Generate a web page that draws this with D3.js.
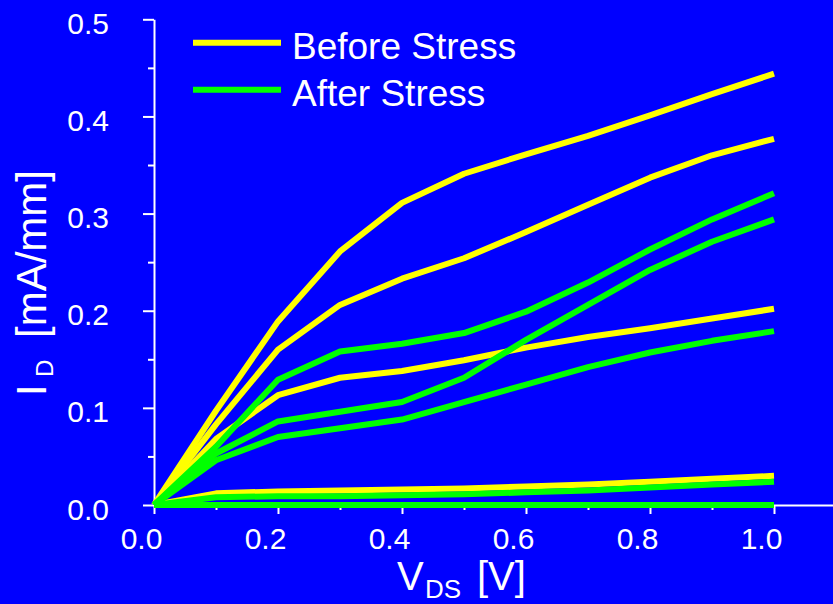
<!DOCTYPE html>
<html>
<head>
<meta charset="utf-8">
<script src="https://cdn.jsdelivr.net/npm/d3@7"></script>
<style>
  html, body { margin: 0; padding: 0; background: #0000ff; }
  svg { display: block; }
</style>
</head>
<body>
<svg id="chart" width="833" height="604"></svg>
<script>
// Drain voltage sweep points [V]
const vds = [0.0, 0.1, 0.2, 0.3, 0.4, 0.5, 0.6, 0.7, 0.8, 0.9, 1.0];

// Drain current [mA/mm] before stress, one curve per gate bias
const before1 = [0, 0.097, 0.189, 0.261, 0.311, 0.341, 0.361, 0.380, 0.401, 0.423, 0.444];
const before2 = [0, 0.083, 0.160, 0.206, 0.233, 0.254, 0.281, 0.309, 0.337, 0.360, 0.377];
const before3 = [0, 0.068, 0.113, 0.131, 0.138, 0.149, 0.162, 0.173, 0.182, 0.192, 0.202];
const before4 = [0, 0.012, 0.014, 0.015, 0.016, 0.017, 0.019, 0.021, 0.024, 0.027, 0.030];
const before5 = [0, 0.000, 0.000, 0.000, 0.000, 0.000, 0.000, 0.000, 0.000, 0.000, 0.000];

// Drain current [mA/mm] after stress
const after1 = [0, 0.060, 0.129, 0.158, 0.166, 0.177, 0.199, 0.229, 0.263, 0.294, 0.321];
const after2 = [0, 0.053, 0.086, 0.096, 0.106, 0.131, 0.170, 0.206, 0.242, 0.271, 0.294];
const after3 = [0, 0.046, 0.070, 0.079, 0.088, 0.106, 0.124, 0.142, 0.157, 0.169, 0.179];
const after4 = [0, 0.008, 0.009, 0.009, 0.010, 0.011, 0.013, 0.015, 0.018, 0.021, 0.024];
const after5 = [0, 0.000, 0.000, 0.000, 0.000, 0.000, 0.000, 0.000, 0.000, 0.000, 0.000];

// Axis ticks
const xMajor = [0.0, 0.2, 0.4, 0.6, 0.8, 1.0];
const xMinor = [0.1, 0.3, 0.5, 0.7, 0.9];
const yMajor = [0.0, 0.1, 0.2, 0.3, 0.4, 0.5];
const yMinor = [0.05, 0.15, 0.25, 0.35, 0.45];

const legendLabels = ["Before Stress", "After Stress"];
const colors = { before: "#ffff00", after: "#00ff00" };

const FONT = "'Liberation Sans', Arial, Helvetica, sans-serif";
const svg = d3.select("#chart");

svg.append("rect").attr("width", 833).attr("height", 604).attr("fill", "#0000ff");

const x = d3.scaleLinear().domain([0, 1.1]).range([154, 836]);
const y = d3.scaleLinear().domain([0, 0.5]).range([505, 19.3]);

// ---- axes ----
function styleAxis(g) {
  g.selectAll("path, line").attr("stroke", "#ffffff").attr("stroke-width", 2);
  g.selectAll("text").attr("fill", "#ffffff").attr("font-family", FONT).attr("font-size", 30);
}

const gx = svg.append("g").attr("transform", `translate(0,${y(0)})`)
  .call(d3.axisBottom(x).tickValues(xMajor).tickSize(9).tickSizeOuter(0).tickFormat(d3.format(".1f")))
  .call(styleAxis);
gx.selectAll("text").attr("y", 44).attr("dy", 0).attr("dx", -13);

svg.append("g").attr("transform", `translate(0,${y(0)})`)
  .call(d3.axisBottom(x).tickValues(xMinor).tickSize(5).tickFormat(""))
  .call(g => g.select(".domain").remove())
  .call(styleAxis);

const gy = svg.append("g").attr("transform", `translate(${x(0)},0)`)
  .call(d3.axisLeft(y).tickValues(yMajor).tickSize(11).tickSizeOuter(0).tickFormat(d3.format(".1f")))
  .call(styleAxis);
gy.selectAll("text").attr("x", -45).attr("dy", 14);

svg.append("g").attr("transform", `translate(${x(0)},0)`)
  .call(d3.axisLeft(y).tickValues(yMinor).tickSize(6).tickFormat(""))
  .call(g => g.select(".domain").remove())
  .call(styleAxis);

// ---- curves ----
const line = d3.line().x((d, i) => x(vds[i])).y(d => y(d));
const curves = [
  { data: before5, c: colors.before }, { data: before4, c: colors.before },
  { data: before3, c: colors.before }, { data: before2, c: colors.before },
  { data: before1, c: colors.before },
  { data: after5, c: colors.after }, { data: after4, c: colors.after },
  { data: after3, c: colors.after }, { data: after2, c: colors.after },
  { data: after1, c: colors.after }
];
svg.append("g").selectAll("path").data(curves).join("path")
  .attr("d", d => line(d.data))
  .attr("fill", "none")
  .attr("stroke", d => d.c)
  .attr("stroke-width", 6)
  .attr("stroke-linejoin", "round")
  .attr("stroke-linecap", "butt");

// ---- legend ----
const legend = svg.append("g");
const legendRows = [
  { label: legendLabels[0], c: colors.before, ly: 42.7, ty: 59 },
  { label: legendLabels[1], c: colors.after, ly: 89.7, ty: 106 }
];
legendRows.forEach(r => {
  legend.append("line").attr("x1", 193).attr("x2", 281).attr("y1", r.ly).attr("y2", r.ly)
    .attr("stroke", r.c).attr("stroke-width", 6);
  legend.append("text").attr("x", 292).attr("y", r.ty)
    .attr("fill", "#ffffff").attr("font-family", FONT).attr("font-size", 37).text(r.label);
});

// ---- axis titles ----
const xt = svg.append("text").attr("fill", "#ffffff").attr("font-family", FONT);
xt.append("tspan").attr("x", 397).attr("y", 590).attr("font-size", 40).text("V");
xt.append("tspan").attr("x", 425).attr("y", 598).attr("font-size", 26).text("DS");
xt.append("tspan").attr("x", 477).attr("y", 590).attr("font-size", 40).text("[V]");

const yt = svg.append("text").attr("fill", "#ffffff").attr("font-family", FONT)
  .attr("transform", "translate(46,396) rotate(-90)");
yt.append("tspan").attr("x", 0).attr("y", 0).attr("font-size", 42).text("I");
yt.append("tspan").attr("x", 19).attr("y", 7).attr("font-size", 24).text("D");
yt.append("tspan").attr("x", 58).attr("y", 0).attr("font-size", 42).text("[mA/mm]");
</script>
</body>
</html>
